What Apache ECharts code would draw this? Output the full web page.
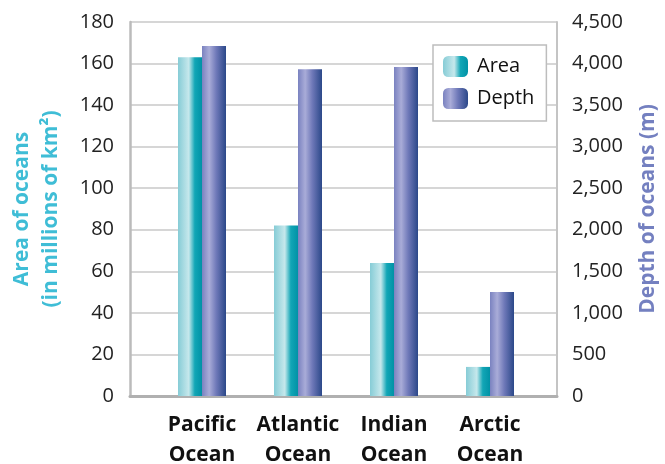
<!DOCTYPE html>
<html>
<head>
<meta charset="utf-8">
<script src="https://cdn.jsdelivr.net/npm/echarts@6/dist/echarts.min.js"></script>
<style>html,body{margin:0;padding:0;background:#fff}#c{width:665px;height:464px}</style>
</head>
<body>
<div id="c"></div>
<script>
const categories = ['Pacific\nOcean', 'Atlantic\nOcean', 'Indian\nOcean', 'Arctic\nOcean'];
const areaValues = [163, 82, 64, 14];
const depthValues = [4210, 3930, 3960, 1250];
const areaAxis = { min: 0, max: 180, interval: 20 };
const depthAxis = { min: 0, max: 4500, interval: 500 };
const areaTitle = 'Area of oceans\n(in millions of km²)';
const depthTitle = 'Depth of oceans (m)';
const seriesNames = ['Area', 'Depth'];

const FONT = 'Open Sans';
const chart = echarts.init(document.getElementById('c'));
const G = echarts.graphic.LinearGradient;
const areaGrad = new G(0, 0, 1, 0, [
  { offset: 0, color: '#86ccd6' },
  { offset: 0.45, color: '#c6e8ec' },
  { offset: 0.7, color: '#12a6b6' },
  { offset: 1, color: '#0092a6' }
]);
const depthGrad = new G(0, 0, 1, 0, [
  { offset: 0, color: '#7a82c0' },
  { offset: 0.3, color: '#a9acd8' },
  { offset: 0.6, color: '#6e78b8' },
  { offset: 1, color: '#2b4889' }
]);

chart.setOption({
  animation: false,
  textStyle: { fontFamily: FONT },
  legend: {
    orient: 'vertical',
    left: 433, top: 45,
    padding: [11, 12, 12, 10],
    itemWidth: 25, itemHeight: 21, itemGap: 11,
    backgroundColor: '#fff',
    borderColor: '#bdbdbd', borderWidth: 1.5,
    textStyle: { fontSize: 20, color: '#111', fontFamily: FONT, padding: [0, 0, 0, 4] },
    data: seriesNames,
    z: 10
  },
  grid: [
    { left: 130, right: 108, top: 22, bottom: 68, outerBoundsMode: 'none', containLabel: false },
    { left: 154, right: 127, top: 22, bottom: 68, outerBoundsMode: 'none', containLabel: false }
  ],
  xAxis: [
    { gridIndex: 0, type: 'value', min: 0, max: 1, show: true,
      axisLine: { show: true, lineStyle: { color: '#b0b0b0', width: 3 } },
      axisTick: { show: false }, axisLabel: { show: false }, splitLine: { show: false } },
    { gridIndex: 1, type: 'category', data: categories,
      axisLine: { show: false }, axisTick: { show: false },
      axisLabel: { interval: 0, hideOverlap: false, fontSize: 21, fontWeight: 'bold', color: '#111', lineHeight: 30, margin: 14, fontFamily: FONT } }
  ],
  yAxis: [
    { gridIndex: 0, type: 'value', position: 'left', ...areaAxis,
      name: areaTitle, nameLocation: 'middle', nameRotate: 90, nameGap: 64,
      nameTextStyle: { color: '#3fbdd6', fontSize: 21, fontWeight: 'bold', lineHeight: 29, fontFamily: FONT },
      axisLine: { show: true, lineStyle: { color: '#bbbbbb', width: 2.5 } },
      axisTick: { show: false },
      axisLabel: { fontSize: 20, color: '#222', margin: 16, fontFamily: FONT },
      splitLine: { show: true, lineStyle: { color: '#c8c8c8', width: 1.5 } } },
    { gridIndex: 0, type: 'value', position: 'right', ...depthAxis,
      name: depthTitle, nameLocation: 'middle', nameRotate: 90, nameGap: 81,
      nameTextStyle: { color: '#7480c0', fontSize: 21, fontWeight: 'bold', fontFamily: FONT },
      axisLine: { show: true, lineStyle: { color: '#c4c4c4', width: 2 } },
      axisTick: { show: false },
      axisLabel: { fontSize: 20, color: '#222', margin: 15, fontFamily: FONT,
        formatter: v => String(v).replace(/\B(?=(\d{3})+(?!\d))/g, ',') },
      splitLine: { show: false } },
    { gridIndex: 1, type: 'value', ...areaAxis, show: false, splitLine: { show: false } },
    { gridIndex: 1, type: 'value', ...depthAxis, show: false, splitLine: { show: false } }
  ],
  series: [
    { name: seriesNames[0], type: 'bar', xAxisIndex: 1, yAxisIndex: 2, data: areaValues,
      barWidth: 24, barGap: '0%', itemStyle: { color: areaGrad } },
    { name: seriesNames[1], type: 'bar', xAxisIndex: 1, yAxisIndex: 3, data: depthValues,
      barWidth: 24, barGap: '0%', itemStyle: { color: depthGrad } }
  ]
});
</script>
</body>
</html>
